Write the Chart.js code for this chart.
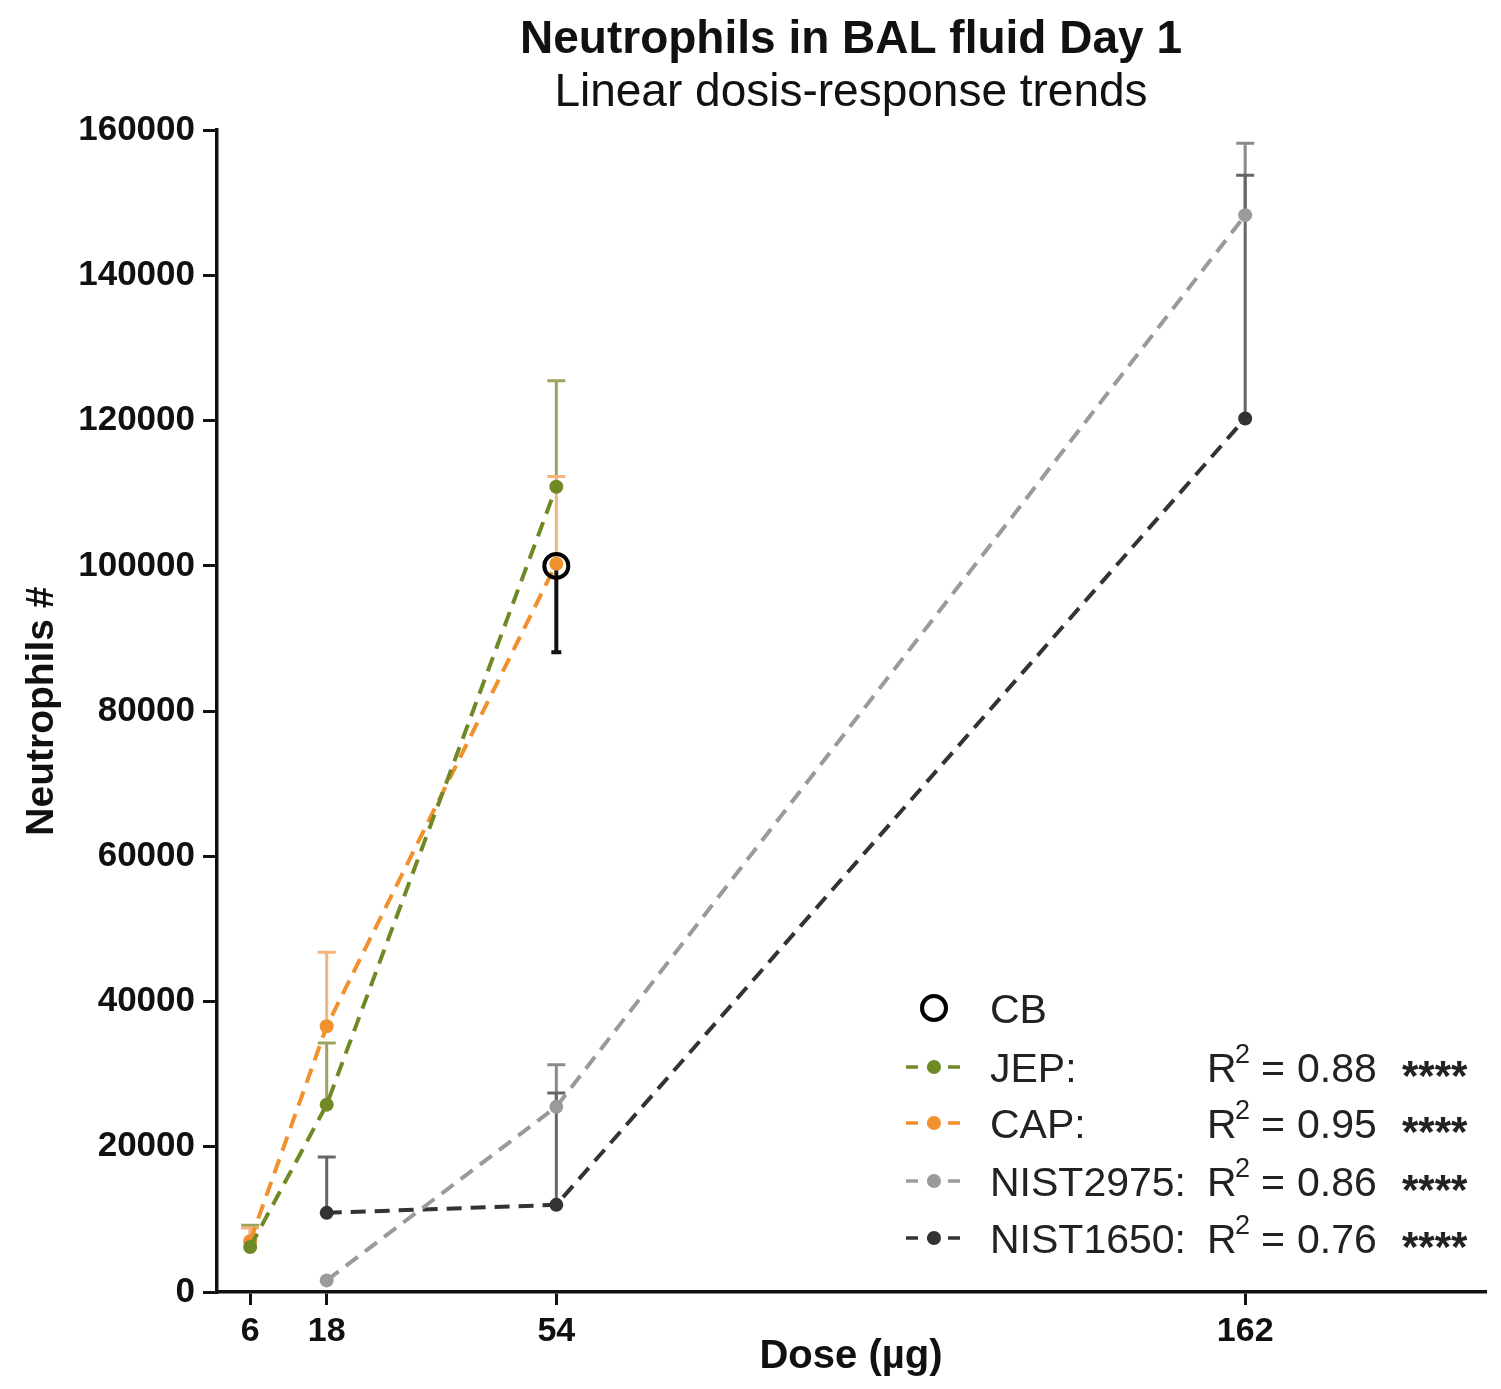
<!DOCTYPE html>
<html>
<head>
<meta charset="utf-8">
<script src="https://cdn.jsdelivr.net/npm/chart.js@4.4.0/dist/chart.umd.min.js"></script>
<style>
  html, body { margin: 0; padding: 0; background: #fff; }
  #wrap { width: 1501px; height: 1389px; }
</style>
</head>
<body>
<div id="wrap"><canvas id="neutroChart"></canvas></div>
<script>
// doses (µg)
const doseTicks = [6, 18, 54, 162];
const lowDoses = [6, 18, 54];
const nistDoses = [18, 54, 162];
const cbDose = [54];

// means
const jepValues = [6200, 25800, 110900];
const capValues = [7000, 36600, 100300];
const nist2975Values = [1600, 25500, 148300];
const nist1650Values = [10900, 12000, 120300];
const cbValues = [100000];

// error bar ends (upper, except CB which is lower)
const jepErr = [9200, 34300, 125500];
const capErr = [8800, 46800, 112300];
const nist2975Err = [null, 31300, 158200];
const nist1650Err = [18600, 27400, 153800];
const cbErr = [88100];

const legendRows = [
    { name: 'JEP:', r2: '0.88', color: '#6f8a25' },
    { name: 'CAP:', r2: '0.95', color: '#f0912d' },
    { name: 'NIST2975:', r2: '0.86', color: '#9a9a9a' },
    { name: 'NIST1650:', r2: '0.76', color: '#333333' }
];

const FONT = '"Liberation Sans", Arial, sans-serif';

function pts(xs, ys) {
    return xs.map((x, i) => ({ x: x, y: ys[i] }));
}

function serie(label, xs, ys, color, errs, errColor) {
    return {
        label: label,
        data: pts(xs, ys),
        borderColor: color,
        backgroundColor: color,
        borderWidth: 4,
        borderDash: [15, 9],
        pointRadius: 7,
        pointHoverRadius: 7,
        pointBorderWidth: 0,
        showLine: true,
        errs: errs,
        errColor: errColor
    };
}

const errorBars = {
    id: 'errorBars',
    beforeDatasetsDraw(chart) {
        const ctx = chart.ctx;
        const xs = chart.scales.x, ys = chart.scales.y;
        chart.data.datasets.forEach(ds => {
            if (!ds.errs) return;
            ctx.save();
            ctx.strokeStyle = ds.errColor;
            ctx.lineWidth = ds.label === 'CB' ? 4 : 3;
            ds.data.forEach((p, i) => {
                const e = ds.errs[i];
                if (e == null) return;
                const px = xs.getPixelForValue(p.x);
                const y0 = ys.getPixelForValue(p.y);
                const y1 = ys.getPixelForValue(e);
                const half = ds.label === 'CB' ? 5 : 9;
                ctx.beginPath();
                ctx.moveTo(px, y0);
                ctx.lineTo(px, y1);
                ctx.moveTo(px - half, y1);
                ctx.lineTo(px + half, y1);
                ctx.stroke();
            });
            ctx.restore();
        });
    }
};

const legendDraw = {
    id: 'legendDraw',
    afterDraw(chart) {
        const ctx = chart.ctx;
        ctx.save();
        ctx.textBaseline = 'alphabetic';
        ctx.textAlign = 'left';
        // CB row
        ctx.strokeStyle = '#000';
        ctx.lineWidth = 4;
        ctx.beginPath();
        ctx.arc(934, 1008, 12, 0, Math.PI * 2);
        ctx.stroke();
        ctx.fillStyle = '#222';
        ctx.font = '41px ' + FONT;
        ctx.fillText('CB', 990, 1023);

        const rowY = [1067, 1123, 1181, 1238];
        legendRows.forEach((row, i) => {
            const y = rowY[i];
            ctx.strokeStyle = row.color;
            ctx.lineWidth = 3.5;
            ctx.setLineDash([12, 9]);
            ctx.beginPath();
            ctx.moveTo(906, y);
            ctx.lineTo(962, y);
            ctx.stroke();
            ctx.setLineDash([]);
            ctx.fillStyle = row.color;
            ctx.beginPath();
            ctx.arc(934, y, 7, 0, Math.PI * 2);
            ctx.fill();

            ctx.fillStyle = '#222';
            ctx.font = '41px ' + FONT;
            ctx.fillText(row.name, 990, y + 15);
            ctx.fillText('R', 1207, y + 15);
            ctx.font = '27px ' + FONT;
            ctx.fillText('2', 1235, y - 4);
            ctx.font = '41px ' + FONT;
            ctx.fillText('=', 1261, y + 15);
            ctx.fillText(row.r2, 1297, y + 15);
            ctx.font = 'bold 42px ' + FONT;
            ctx.fillText('****', 1402, y + 23);
        });
        ctx.restore();
    }
};

new Chart(document.getElementById('neutroChart').getContext('2d'), {
    type: 'scatter',
    data: {
        datasets: [
            {
                label: 'CB',
                data: pts(cbDose, cbValues),
                borderColor: '#000',
                backgroundColor: 'rgba(255,255,255,0)',
                borderWidth: 4,
                pointRadius: 12,
                pointHoverRadius: 12,
                showLine: false,
                errs: cbErr,
                errColor: '#111'
            },
            serie('JEP', lowDoses, jepValues, '#6f8a25', jepErr, '#9ea25a'),
            serie('CAP', lowDoses, capValues, '#f0912d', capErr, '#f4b47c'),
            serie('NIST2975', nistDoses, nist2975Values, '#9a9a9a', nist2975Err, '#8a8a8a'),
            serie('NIST1650', nistDoses, nist1650Values, '#333333', nist1650Err, '#666666')
        ]
    },
    options: {
        responsive: true,
        maintainAspectRatio: false,
        animation: false,
        layout: { padding: { top: 0, right: 4, bottom: 0, left: 0 } },
        plugins: {
            legend: { display: false },
            tooltip: { enabled: false },
            title: {
                display: true,
                fullSize: false,
                text: 'Neutrophils in BAL fluid Day 1',
                color: '#111',
                font: { family: FONT, size: 46, weight: 'bold', lineHeight: 1.1 },
                padding: { top: 15, bottom: 0 }
            },
            subtitle: {
                display: true,
                fullSize: false,
                text: 'Linear dosis-response trends',
                color: '#111',
                font: { family: FONT, size: 46, lineHeight: 1.1 },
                padding: { top: 2, bottom: 12 }
            }
        },
        scales: {
            x: {
                type: 'linear',
                min: 0.8,
                max: 199.6,
                afterBuildTicks: s => { s.ticks = doseTicks.map(v => ({ value: v })); },
                afterFit: s => { s.height = 97; },
                ticks: {
                    autoSkip: false,
                    color: '#111',
                    padding: 6,
                    font: { family: FONT, size: 34, weight: 'bold' }
                },
                grid: { drawOnChartArea: false, color: '#111', lineWidth: 3, tickLength: 13 },
                border: { color: '#111', width: 3.5 },
                title: {
                    display: true,
                    text: 'Dose (µg)',
                    color: '#111',
                    font: { family: FONT, size: 40, weight: 'bold', lineHeight: 1.1 },
                    padding: { top: 0, bottom: 10 }
                }
            },
            y: {
                min: 0,
                max: 160000,
                afterFit: s => { s.width = 217; },
                ticks: {
                    stepSize: 20000,
                    color: '#111',
                    padding: 8,
                    font: { family: FONT, size: 35, weight: 'bold' },
                    callback: v => String(v)
                },
                grid: { drawOnChartArea: false, color: '#111', lineWidth: 3, tickLength: 14 },
                border: { color: '#111', width: 3.5 },
                title: {
                    display: true,
                    text: 'Neutrophils #',
                    color: '#111',
                    font: { family: FONT, size: 39, weight: 'bold', lineHeight: 1.1 },
                    padding: { top: 21, bottom: 0 }
                }
            }
        }
    },
    plugins: [errorBars, legendDraw]
});
</script>
</body>
</html>
